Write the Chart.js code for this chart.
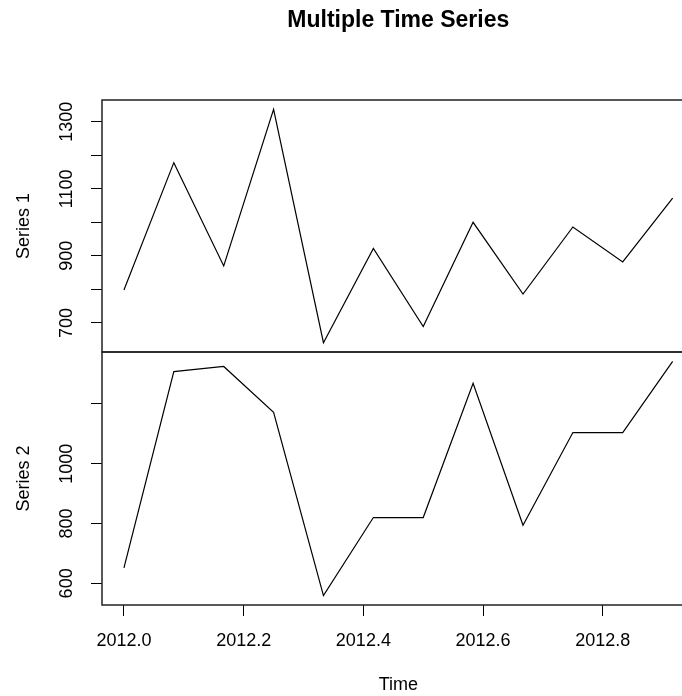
<!DOCTYPE html>
<html>
<head>
<meta charset="utf-8">
<title>Multiple Time Series</title>
<script src="https://cdn.jsdelivr.net/npm/chart.js@4.4.1/dist/chart.umd.min.js"></script>
<style>
  html, body { margin: 0; padding: 0; background: #ffffff; overflow: hidden; }
  #page { position: relative; width: 682px; height: 696px; overflow: hidden; background: #ffffff; }
  .pane { position: absolute; left: 0; }
  canvas { display: block; }
</style>
</head>
<body>
<div id="page">
  <div class="pane" id="paneTop" style="top:0px"><canvas id="chartTop" width="720" height="360"></canvas></div>
  <div class="pane" id="paneBottom" style="top:344px"><canvas id="chartBottom" width="720" height="352"></canvas></div>
</div>
<script>
// Monthly observations, January to December 2012 (frequency 12)
const times = [2012.0000, 2012.0833, 2012.1667, 2012.2500, 2012.3333, 2012.4167,
               2012.5000, 2012.5833, 2012.6667, 2012.7500, 2012.8333, 2012.9167];

const series1 = [798, 1178, 870, 1337, 641, 922, 689, 1000, 786, 986, 882, 1072];
const series2 = [652, 1308, 1325, 1172, 559, 820, 820, 1269, 794, 1104, 1104, 1342];

const timeTicks = [2012.0, 2012.2, 2012.4, 2012.6, 2012.8];

const series1Ticks = [700, 800, 900, 1000, 1100, 1200, 1300];
const series1Labels = [700, 900, 1100, 1300];
const series2Ticks = [600, 800, 1000, 1200];
const series2Labels = [600, 800, 1000];

const FONT = '"Liberation Sans", Arial, Helvetica, sans-serif';
const INK = '#000000';

// Axis limits extended by 4% of the data range on each side
function paddedRange(values) {
  const lo = Math.min(...values), hi = Math.max(...values);
  const r = hi - lo;
  return [lo - 0.04 * r, hi + 0.04 * r];
}

const [xMin, xMax] = paddedRange(times);

// Box drawn around each panel's plotting region
const panelFrame = {
  id: 'panelFrame',
  afterDatasetsDraw(chart) {
    const { ctx, chartArea: a } = chart;
    ctx.save();
    ctx.strokeStyle = '#222222';
    ctx.lineWidth = 1.5;
    ctx.strokeRect(a.left, a.top, a.right - a.left, a.bottom - a.top);
    ctx.restore();
  }
};

function makePanel(canvas, values, yTicks, yLabels, yTitle, showTime, heading) {
  const [yMin, yMax] = paddedRange(values);
  const points = times.map((t, i) => ({ x: t, y: values[i] }));

  return new Chart(canvas, {
    type: 'line',
    data: {
      datasets: [{
        data: points,
        borderColor: INK,
        borderWidth: 1.2,
        pointRadius: 0,
        pointHoverRadius: 0,
        tension: 0,
        fill: false
      }]
    },
    options: {
      responsive: false,
      animation: false,
      events: [],
      layout: {
        padding: { left: 0, right: 25.4, top: showTime ? 8 : 0, bottom: showTime ? 0 : 8 }
      },
      plugins: {
        legend: { display: false },
        tooltip: { enabled: false },
        title: {
          display: !!heading,
          text: heading || '',
          fullSize: false,
          color: INK,
          font: { family: FONT, size: 23, weight: 'bold', lineHeight: 1.2 },
          padding: { top: 7, bottom: 65.4 }
        }
      },
      scales: {
        x: {
          type: 'linear',
          display: showTime,
          min: xMin,
          max: xMax,
          afterBuildTicks: s => { s.ticks = timeTicks.map(v => ({ value: v })); },
          afterFit: s => { s.height = showTime ? 91 : 0; },
          border: { display: false },
          grid: {
            drawOnChartArea: false,
            drawTicks: true,
            tickLength: 11,
            color: INK,
            lineWidth: 1
          },
          ticks: {
            color: INK,
            font: { family: FONT, size: 18 },
            padding: 14,
            maxRotation: 0,
            autoSkip: false,
            callback: v => Number(v).toFixed(1)
          },
          title: {
            display: true,
            text: 'Time',
            color: INK,
            font: { family: FONT, size: 18 },
            padding: { top: 0, bottom: 0 }
          }
        },
        y: {
          type: 'linear',
          position: 'left',
          min: yMin,
          max: yMax,
          afterBuildTicks: s => { s.ticks = yTicks.map(v => ({ value: v })); },
          afterFit: s => {
            s.width = 102;
            s.paddingTop = 0;
            s.paddingBottom = 0;
          },
          border: { display: false },
          grid: {
            drawOnChartArea: false,
            drawTicks: true,
            tickLength: 11,
            color: INK,
            lineWidth: 1
          },
          ticks: {
            color: INK,
            font: { family: FONT, size: 18 },
            minRotation: 90,
            maxRotation: 90,
            crossAlign: 'center',
            padding: 4,
            autoSkip: false,
            callback: v => (yLabels.includes(v) ? String(v) : '')
          },
          title: {
            display: true,
            text: yTitle,
            color: INK,
            font: { family: FONT, size: 18 },
            padding: { top: 13, bottom: 0 }
          }
        }
      }
    },
    plugins: [panelFrame]
  });
}

makePanel(document.getElementById('chartTop'), series1, series1Ticks, series1Labels,
          'Series 1', false, 'Multiple Time Series');
makePanel(document.getElementById('chartBottom'), series2, series2Ticks, series2Labels,
          'Series 2', true, null);
</script>
</body>
</html>
